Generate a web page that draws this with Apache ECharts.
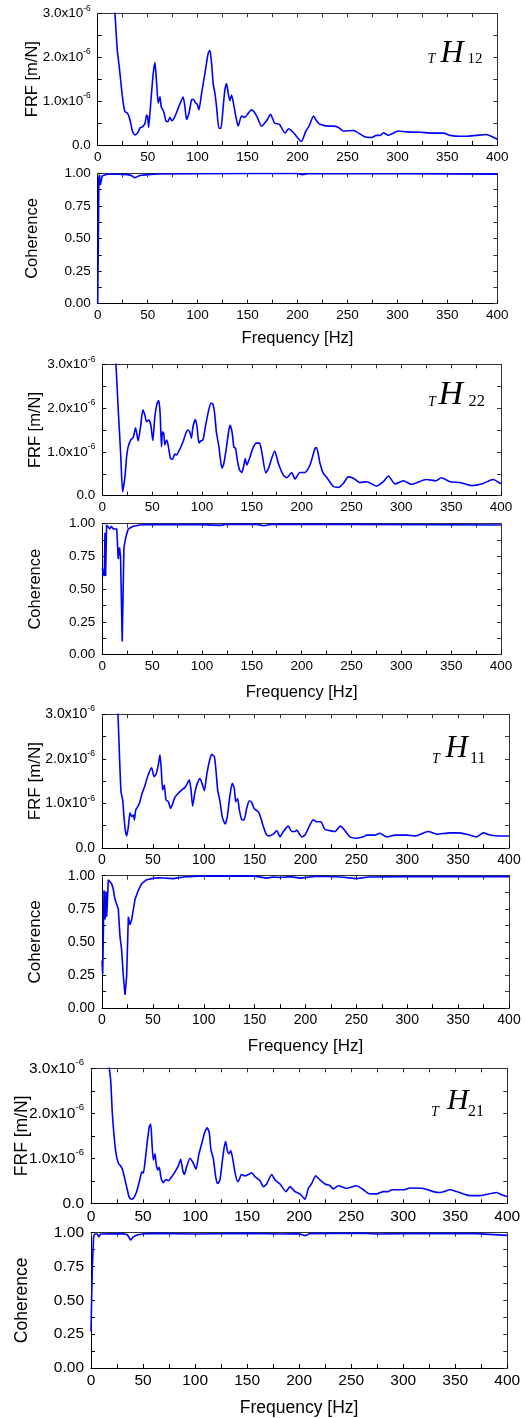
<!DOCTYPE html>
<html>
<head>
<meta charset="utf-8">
<script src="https://cdn.jsdelivr.net/npm/echarts@6/dist/echarts.min.js"></script>
<style>
html,body{margin:0;padding:0;background:#fff;}
#chart{width:526px;height:1418px;}
</style>
</head>
<body>
<div id="chart"></div>
<script>
// ---------------- DATA ----------------
const xTicks = [0, 50, 100, 150, 200, 250, 300, 350, 400];   // Frequency [Hz]
const frfTicks = [0, 1, 2, 3];                                 // x10^-6 m/N
const cohTicks = [0, 0.25, 0.5, 0.75, 1];

// [frequency Hz, FRF in 1e-6 m/N]
const frf12 = [[15,3.9],[17.3,3.0],[19.6,2.16],[21.6,1.78],[24,1.25],[25.6,0.95],[27.3,0.76],[30,0.72],[32.3,0.57],[35,0.30],[37.6,0.23],[40.6,0.30],[42.3,0.39],[45,0.42],[47.3,0.49],[49,0.68],[50,0.65],[51,0.40],[53.3,1.02],[55.6,1.63],[57.3,1.88],[59,1.40],[60.6,0.95],[62.3,1.10],[63.6,0.87],[65,0.81],[66.3,0.74],[68.3,0.55],[70.3,0.53],[72.3,0.63],[74.3,0.55],[77.3,0.65],[80.6,0.84],[84,1.03],[85.6,1.09],[87.3,0.87],[89,0.58],[91.3,0.72],[94,1.03],[95.6,1.04],[98.3,0.95],[99.6,0.93],[101.3,0.80],[104,1.18],[107.3,1.63],[110.6,2.09],[112.3,2.16],[114,1.86],[115.6,1.40],[117.3,1.18],[119,0.87],[121.3,0.38],[123.3,0.38],[125.6,0.87],[127.3,1.25],[129,1.40],[130.6,1.18],[132.3,1.01],[134,1.14],[135.6,0.99],[138,0.68],[140.6,0.43],[144,0.66],[147.3,0.63],[150.6,0.72],[154,0.80],[157,0.74],[160,0.62],[164,0.43],[169,0.55],[173,0.70],[177,0.50],[182,0.47],[187.5,0.27],[191,0.37],[196,0.28],[204,0.08],[208,0.30],[212,0.45],[216,0.66],[219,0.55],[222,0.48],[231,0.43],[236,0.43],[241,0.40],[246,0.32],[256,0.33],[259,0.30],[268,0.18],[274,0.17],[279,0.22],[283,0.22],[286,0.28],[291,0.22],[294,0.25],[301,0.32],[309,0.30],[323,0.29],[336,0.27],[346,0.27],[353,0.22],[363,0.20],[369,0.20],[379,0.22],[389,0.24],[394,0.20],[400,0.13]];
const coh12 = [[0,0],[0.6,0.45],[1.2,0.97],[1.8,0.99],[2.5,0.91],[3.5,0.94],[4.5,0.98],[6,0.99],[10,0.995],[20,0.993],[30,0.99],[34,0.982],[37,0.965],[39,0.968],[42,0.983],[50,0.99],[60,0.995],[100,0.997],[150,0.998],[200,0.998],[205,0.99],[210,0.997],[300,0.997],[400,0.994]];

const frf22 = [[12,3.6],[13.7,3.0],[16,1.96],[18.4,0.97],[20.4,0.09],[22.7,0.43],[24.4,0.89],[26,1.12],[28.4,1.27],[31,1.33],[33.4,1.55],[36,1.25],[38.4,1.58],[40.7,1.96],[42.7,1.84],[44.4,1.69],[46.7,1.73],[48.7,1.61],[50.7,1.26],[52.7,1.80],[55,2.11],[56.7,2.17],[58,1.88],[59.4,1.12],[60.4,1.46],[61.7,1.42],[62.7,1.16],[64.4,1.27],[66,1.16],[68.4,0.85],[70.4,0.83],[72.7,0.95],[74.4,0.93],[77.7,1.06],[81,1.23],[83.7,1.42],[86,1.50],[87.7,1.46],[89.4,1.31],[91,1.58],[93.4,1.74],[95,1.58],[97,1.20],[98.7,1.25],[101,1.27],[103.7,1.61],[106.4,1.92],[109,2.11],[111,2.09],[112.7,1.88],[114.4,1.46],[117,1.12],[120,0.63],[122,0.74],[124.4,1.08],[127,1.50],[128.4,1.61],[130.4,1.42],[132,1.11],[133.7,1.08],[135.4,0.82],[137.7,0.59],[140,0.53],[141.7,0.66],[143.4,0.85],[145,0.70],[147.7,0.85],[151,1.08],[154.4,1.20],[157.7,1.20],[160,1.0],[164,0.52],[166.6,0.62],[173,1.02],[176.6,0.74],[181.6,0.47],[185,0.41],[190,0.53],[193.3,0.38],[198.3,0.53],[203.3,0.53],[208.4,0.70],[213.4,1.08],[215,1.10],[218.4,0.74],[221.7,0.51],[225,0.42],[231.8,0.21],[236.8,0.19],[241.8,0.28],[246.8,0.43],[251.8,0.40],[258.5,0.30],[265.2,0.32],[275,0.22],[282,0.32],[287,0.45],[293.6,0.27],[302,0.34],[310,0.26],[325,0.37],[335,0.34],[340,0.41],[349,0.32],[359,0.30],[370.5,0.23],[382,0.28],[392,0.37],[400,0.27]];
const coh22 = [[0,0.66],[1,0.62],[2,0.60],[2.7,0.93],[3.3,0.60],[4.3,0.99],[6,0.98],[7.5,0.96],[9,0.98],[11,0.96],[13,0.95],[14.5,0.96],[16,0.73],[17.3,0.82],[18.3,0.75],[20,0.10],[21.7,0.82],[23.7,0.90],[26,0.96],[31,0.98],[38,0.99],[50,0.995],[56,0.993],[58,0.982],[62,0.993],[100,0.993],[118,0.987],[125,0.996],[155,0.995],[162,0.985],[170,0.996],[250,0.995],[400,0.99]];

const frf11 = [[14.5,3.6],[15.7,3.0],[16.5,2.5],[17.7,1.75],[18.7,1.26],[20.3,1.08],[21.6,0.70],[22.9,0.40],[24.3,0.27],[25.9,0.48],[27.5,0.79],[29.2,0.70],[30.8,0.74],[31.8,0.63],[33.1,0.85],[34.7,0.91],[36.7,1.0],[39,1.19],[42.3,1.41],[45.5,1.65],[48.8,1.80],[51.1,1.60],[53,1.65],[55.3,1.86],[57,2.09],[58.3,1.75],[59.6,1.30],[61.2,1.41],[62.9,1.08],[65.2,1.04],[67.5,0.89],[69.5,1.0],[71.7,1.14],[75,1.23],[78.3,1.30],[81.6,1.36],[83.9,1.45],[85.8,1.53],[87.5,1.30],[89.1,0.94],[91.4,1.26],[93.7,1.45],[96.3,1.56],[98.3,1.45],[100.6,1.29],[102.9,1.64],[105.5,1.94],[107.8,2.10],[110.4,2.05],[112,1.75],[113.7,1.30],[116,1.04],[118.2,0.70],[120.9,0.54],[123.1,0.70],[125.8,1.19],[128,1.45],[130,1.34],[131.4,1.04],[133.3,1.11],[135,0.85],[137.3,0.64],[139.6,0.63],[142.2,0.89],[144.8,1.06],[147.1,1.02],[149.4,0.89],[152,0.84],[154,0.80],[156,0.68],[158.6,0.48],[161,0.33],[163.5,0.27],[168.4,0.31],[171.7,0.39],[175,0.25],[178.2,0.37],[183.1,0.49],[186.4,0.37],[189.7,0.37],[191.3,0.40],[196.3,0.25],[199.5,0.29],[207.7,0.63],[211,0.59],[215,0.59],[219,0.42],[224,0.39],[229,0.37],[234,0.49],[237,0.44],[243.7,0.25],[250,0.22],[256.8,0.25],[260,0.29],[268,0.29],[273,0.33],[280,0.25],[288,0.29],[299.4,0.29],[307.6,0.27],[320.7,0.37],[329,0.31],[342,0.34],[348.6,0.34],[358.4,0.31],[368,0.25],[374.8,0.34],[381.3,0.29],[391,0.27],[400,0.27]];
const coh11 = [[0,0.36],[0.7,0.26],[2,0.89],[3,0.67],[4,0.88],[4.6,0.69],[6.2,0.97],[7.2,0.98],[9.5,0.94],[11,0.90],[12.8,0.82],[14.4,0.82],[16,0.75],[17.7,0.54],[19.3,0.44],[21,0.24],[22.6,0.10],[24.2,0.24],[25.9,0.69],[27.5,0.63],[29.2,0.67],[30.8,0.66],[32.4,0.82],[35.7,0.89],[39,0.94],[44,0.97],[50,0.98],[56,0.985],[60,0.983],[70,0.978],[80,0.99],[96,0.997],[150,0.997],[162,0.982],[168,0.99],[175,0.987],[185,0.993],[195,0.982],[211,0.996],[235,0.99],[250,0.978],[262,0.99],[300,0.993],[400,0.993]];

const frf21 = [[16,3.9],[17.6,3.0],[18.9,2.74],[20.5,2.0],[22.1,1.52],[24,1.11],[26.3,0.89],[28.5,0.83],[30.4,0.74],[32.7,0.52],[34.9,0.30],[36.8,0.13],[39.1,0.09],[41.3,0.13],[43.9,0.26],[46.4,0.48],[49,0.70],[50.3,0.67],[51.9,0.92],[54.1,1.37],[56,1.70],[57.4,1.76],[58.6,1.33],[59.9,0.96],[61.5,1.10],[62.5,0.89],[64.1,0.74],[65.6,0.80],[67.3,0.56],[69.5,0.46],[72.1,0.53],[74.3,0.50],[77.5,0.59],[80.7,0.70],[83.9,0.83],[86.2,0.98],[88.1,0.74],[89.7,0.64],[91.9,0.81],[95.1,1.0],[98.3,0.89],[100.9,0.76],[103.5,1.07],[106.4,1.33],[109.5,1.59],[111.8,1.68],[113.7,1.56],[115.3,1.18],[117.5,1.0],[119.8,0.59],[121.7,0.44],[123.9,0.52],[126.5,1.0],[128.1,1.26],[129.4,1.37],[131,1.17],[132.6,1.10],[134.2,1.17],[136.1,1.0],[138.4,0.68],[140.9,0.48],[142.5,0.53],[144.4,0.64],[148,0.61],[151.2,0.64],[154.4,0.68],[157.6,0.59],[162.4,0.50],[165.6,0.37],[168.8,0.43],[173.6,0.64],[176.8,0.52],[181.6,0.43],[187.3,0.26],[191.2,0.37],[196,0.26],[200.8,0.21],[205.6,0.09],[208.8,0.33],[212,0.44],[215.9,0.61],[220,0.52],[224.8,0.43],[229.6,0.39],[232.8,0.32],[237.6,0.39],[245.6,0.33],[255.2,0.39],[260,0.33],[266.5,0.22],[274.5,0.21],[280.9,0.26],[285.7,0.26],[288.9,0.30],[300,0.30],[306.5,0.34],[319.3,0.33],[328.9,0.26],[335.3,0.24],[345,0.30],[351.3,0.26],[364,0.17],[373.7,0.17],[389.7,0.24],[394.5,0.19],[400,0.15]];
const coh21 = [[0,0.27],[0.6,0.5],[1.3,0.75],[2.5,0.97],[3.5,0.99],[5,0.98],[6,0.99],[7.5,0.97],[9,0.99],[30,0.993],[35,0.985],[38,0.945],[40,0.965],[42,0.975],[45,0.985],[50,0.99],[60,0.995],[100,0.99],[150,0.995],[185,0.99],[200,0.993],[206,0.978],[210,0.993],[260,0.997],[275,0.99],[300,0.993],[370,0.993],[400,0.98]];

const labels = ['12', '22', '11', '21'];

// ---------------- LAYOUT ----------------
const panels = [
  {frf: frf12, coh: coh12, left: 97.7, width: 399.6, frfTop: 13.3, frfH: 131.7, cohTop: 173.3, cohH: 130.4, tick: 13.5, title: 16.5, yGap: 57, xGap: 26,
   ann: {tx: 427.5, hx: 440.5, sx: 467.5, hBase: 63.3, sBase: 63.3, hSize: 32, sSize: 15, tSize: 14}},
  {frf: frf22, coh: coh22, left: 102.3, width: 398.7, frfTop: 364.3, frfH: 131.4, cohTop: 523.7, cohH: 131, tick: 13.5, title: 16.5, yGap: 58, xGap: 29,
   ann: {tx: 428, hx: 438.5, sx: 468.5, hBase: 405.5, sBase: 407, hSize: 34, sSize: 16.5, tSize: 14}},
  {frf: frf11, coh: coh11, left: 102, width: 407, frfTop: 714.3, frfH: 133.7, cohTop: 875.7, cohH: 132.6, tick: 14, title: 17, yGap: 58, xGap: 30,
   ann: {tx: 432, hx: 445.5, sx: 470, hBase: 758, sBase: 763.5, hSize: 31, sSize: 16, tSize: 14}},
  {frf: frf21, coh: coh21, left: 91, width: 416.3, frfTop: 1068.3, frfH: 135, cohTop: 1232.7, cohH: 135.6, tick: 15.5, title: 17.5, yGap: 60, xGap: 31,
   ann: {tx: 431, hx: 447, sx: 468, hBase: 1110, sBase: 1116.5, hSize: 30, sSize: 16, tSize: 14}}
];

const FONT = '"Liberation Sans", Arial, sans-serif';
const SERIF = '"Liberation Serif", "Times New Roman", serif';
const BLUE = '#0000ff';

const grid = [], xAxis = [], yAxis = [], series = [], graphic = [];

function addPlot(p, top, height, kind, data) {
  const g = grid.length;
  grid.push({left: p.left, top: top, width: p.width, height: height, containLabel: false});
  const tickStyle = {show: true, inside: true, length: 4, lineStyle: {color: '#000', width: 1}};
  const baseX = {
    type: 'value', gridIndex: g, min: xTicks[0], max: xTicks[xTicks.length - 1], interval: 25,
    splitLine: {show: false}
  };
  xAxis.push(Object.assign({}, baseX, {
    position: 'bottom',
    axisLine: {show: true, onZero: false, lineStyle: {color: '#000', width: 1}},
    axisTick: tickStyle,
    axisLabel: {show: true, margin: 5, fontSize: p.tick, fontFamily: FONT, color: '#000',
      formatter: v => (xTicks.indexOf(v) >= 0 ? String(v) : '')},
    name: kind === 'coh' ? 'Frequency [Hz]' : '',
    nameLocation: 'middle', nameGap: p.xGap, nameMoveOverlap: false,
    nameTextStyle: {fontSize: p.title, fontFamily: FONT, color: '#000'}
  }));
  xAxis.push(Object.assign({}, baseX, {
    position: 'top',
    axisLine: {show: true, onZero: false, lineStyle: {color: '#333', width: 1}},
    axisTick: {show: true, inside: true, length: 4, lineStyle: {color: '#333', width: 1}},
    axisLabel: {show: false}
  }));
  let baseY;
  if (kind === 'frf') {
    baseY = {type: 'value', gridIndex: g, min: 0, max: frfTicks[frfTicks.length - 1], interval: 0.5, splitLine: {show: false}};
  } else {
    baseY = {type: 'value', gridIndex: g, min: 0, max: 1, interval: 0.125, splitLine: {show: false}};
  }
  const yFmt = kind === 'frf'
    ? (v => frfTicks.indexOf(v) < 0 ? '' : (v === 0 ? '{a|0.0}' : '{a|' + v.toFixed(1) + 'x10}{b|-6}'))
    : (v => cohTicks.indexOf(v) < 0 ? '' : v.toFixed(2));
  yAxis.push(Object.assign({}, baseY, {
    position: 'left',
    axisLine: {show: true, onZero: false, lineStyle: {color: '#000', width: 1}},
    axisTick: tickStyle,
    axisLabel: {show: true, margin: 7, fontSize: p.tick, fontFamily: FONT, color: '#000',
      formatter: yFmt,
      rich: {
        a: {fontSize: p.tick, fontFamily: FONT, color: '#000'},
        b: {fontSize: p.tick * 0.62, fontFamily: FONT, color: '#000', padding: [0, 0, p.tick * 0.75, 0]}
      }},
    name: kind === 'frf' ? 'FRF [m/N]' : 'Coherence',
    nameLocation: 'middle', nameGap: p.yGap, nameRotate: 90, nameMoveOverlap: false,
    nameTextStyle: {fontSize: p.title, fontFamily: FONT, color: '#000'}
  }));
  yAxis.push(Object.assign({}, baseY, {
    position: 'right',
    axisLine: {show: true, onZero: false, lineStyle: {color: '#333', width: 1}},
    axisTick: {show: true, inside: true, length: 4, lineStyle: {color: '#333', width: 1}},
    axisLabel: {show: false}
  }));
  series.push({
    type: 'line', xAxisIndex: xAxis.length - 2, yAxisIndex: yAxis.length - 2,
    data: data, showSymbol: false, symbol: 'none', clip: true,
    smooth: kind === 'frf' ? 0.2 : false,
    lineStyle: {color: BLUE, width: 1.6}, animation: false, silent: true
  });
}

panels.forEach((p, i) => {
  addPlot(p, p.frfTop, p.frfH, 'frf', p.frf);
  addPlot(p, p.cohTop, p.cohH, 'coh', p.coh);
  const a = p.ann;
  // approximate baseline placement: bottom of box sits ~0.2em below baseline
  graphic.push({type: 'text', x: a.tx, y: a.sBase + a.tSize * 0.2, style: {text: 'T', font: 'italic ' + a.tSize + 'px ' + SERIF, fill: '#000', align: 'left', verticalAlign: 'bottom'}});
  graphic.push({type: 'text', x: a.hx, y: a.hBase + a.hSize * 0.2, style: {text: 'H', font: 'italic ' + a.hSize + 'px ' + SERIF, fill: '#000', align: 'left', verticalAlign: 'bottom'}});
  graphic.push({type: 'text', x: a.sx, y: a.sBase + a.sSize * 0.2, style: {text: labels[i], font: a.sSize + 'px ' + SERIF, fill: '#000', align: 'left', verticalAlign: 'bottom'}});
});

const chart = echarts.init(document.getElementById('chart'), null, {renderer: 'canvas'});
chart.setOption({
  animation: false,
  backgroundColor: '#fff',
  textStyle: {fontFamily: FONT},
  grid, xAxis, yAxis, series, graphic
});
</script>
</body>
</html>
